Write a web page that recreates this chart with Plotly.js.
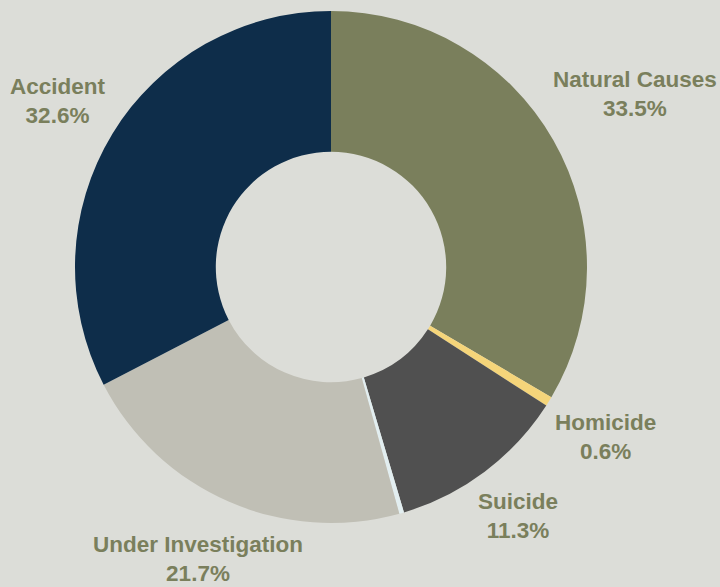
<!DOCTYPE html>
<html>
<head>
<meta charset="utf-8">
<script src="https://cdn.plot.ly/plotly-3.0.1.min.js"></script>
<style>html,body{margin:0;padding:0;background:#dcddd8;}#chart{width:720px;height:587px;}</style>
</head>
<body>
<div id="chart"></div>
<script>
const categories = ['Natural Causes', 'Homicide', 'Suicide', 'Undetermined', 'Under Investigation', 'Accident'];
const values = [33.5, 0.6, 11.3, 0.3, 21.7, 32.6];
const showLabel = [true, true, true, false, true, true];
const colors = ['#7a7f5c', '#f5d57a', '#505050', '#e2eef0', '#c0bfb5', '#0e2d4a'];

const W = 720, H = 587;
const dom = {x: [0, 662/720], y: [64/587, 576/587]};
const cx = W * (dom.x[0] + dom.x[1]) / 2;
const cy = H * (1 - (dom.y[0] + dom.y[1]) / 2);
const fontSize = 22.5;
const fontFam = 'Liberation Sans, Arial, sans-serif';
const lineH = 28;

const ctx = document.createElement('canvas').getContext('2d');
ctx.font = 'bold ' + fontSize + 'px "Liberation Sans", Arial, sans-serif';

const total = values.reduce((a, b) => a + b, 0);
let cum = 0;
const annotations = [];
values.forEach((v, i) => {
  const start = cum / total;
  cum += v;
  const end = cum / total;
  if (!showLabel[i]) return;
  const mid = (start + end) / 2 * 2 * Math.PI;
  const s = Math.sin(mid), c = Math.cos(mid);
  const pct = (+(100 * v / total).toPrecision(3)).toString() + '%';
  const hw = Math.max(ctx.measureText(categories[i]).width, ctx.measureText(pct).width) / 2;
  const hh = lineH;
  const r = 265 + Math.abs(s) * hw + Math.abs(c) * hh;
  let px = cx + r * s;
  let py = cy - r * c;
  py = Math.min(py, H - hh);
  annotations.push({
    xref: 'paper', yref: 'paper',
    x: px / W, y: 1 - py / H,
    xanchor: 'center', yanchor: 'middle',
    text: '<b>' + categories[i] + '</b><br><b>' + pct + '</b>',
    showarrow: false,
    align: 'center',
    font: {family: fontFam, size: fontSize, color: '#7a7f5c'}
  });
});

Plotly.newPlot('chart', [{
  type: 'pie',
  labels: categories,
  values: values,
  hole: 0.45,
  sort: false,
  direction: 'clockwise',
  rotation: 0,
  marker: {colors: colors, line: {width: 0}},
  textinfo: 'none',
  hoverinfo: 'label+percent',
  showlegend: false,
  domain: dom
}], {
  width: W, height: H,
  margin: {l: 0, r: 0, t: 0, b: 0},
  paper_bgcolor: '#dcddd8',
  plot_bgcolor: '#dcddd8',
  showlegend: false,
  annotations: annotations
}, {displayModeBar: false});
</script>
</body>
</html>
